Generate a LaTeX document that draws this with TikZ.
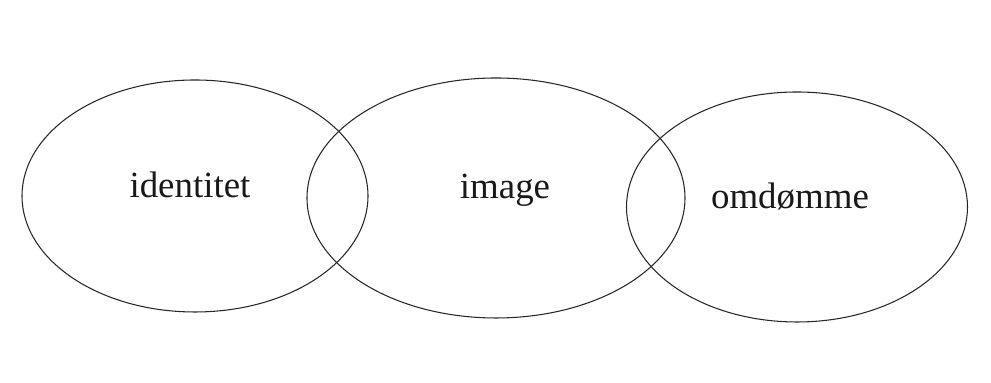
\documentclass[tikz,border=0pt]{standalone}
\usepackage{fontspec}
\setmainfont{Liberation Serif}
\usetikzlibrary{shapes.geometric}

\begin{document}
\begin{tikzpicture}[
    % ---------- stiler ----------
    ring/.style={draw=black!85, line width=0.6pt, ellipse, inner sep=0pt},
    lbl/.style={font=\fontsize{21}{25}\selectfont, text=black!90}
]
\useasboundingbox (0,0) rectangle (19.82,7.66);

% ====== Ellipser ======
\node[ring, minimum width=6.92cm, minimum height=4.64cm] (idn) at (3.90,3.74) {};
\node[ring, minimum width=7.56cm, minimum height=4.80cm] (img) at (9.92,3.70) {};
\node[ring, minimum width=6.82cm, minimum height=4.60cm] (omd) at (15.94,3.52) {};

% ====== Tekster ======
\node[lbl] (tidn) at (3.80,3.96) {identitet};
\node[lbl] (timg) at (10.10,3.86) {image};
\node[lbl] (tomd) at (15.80,3.74) {omdømme};

\end{tikzpicture}
\end{document}
